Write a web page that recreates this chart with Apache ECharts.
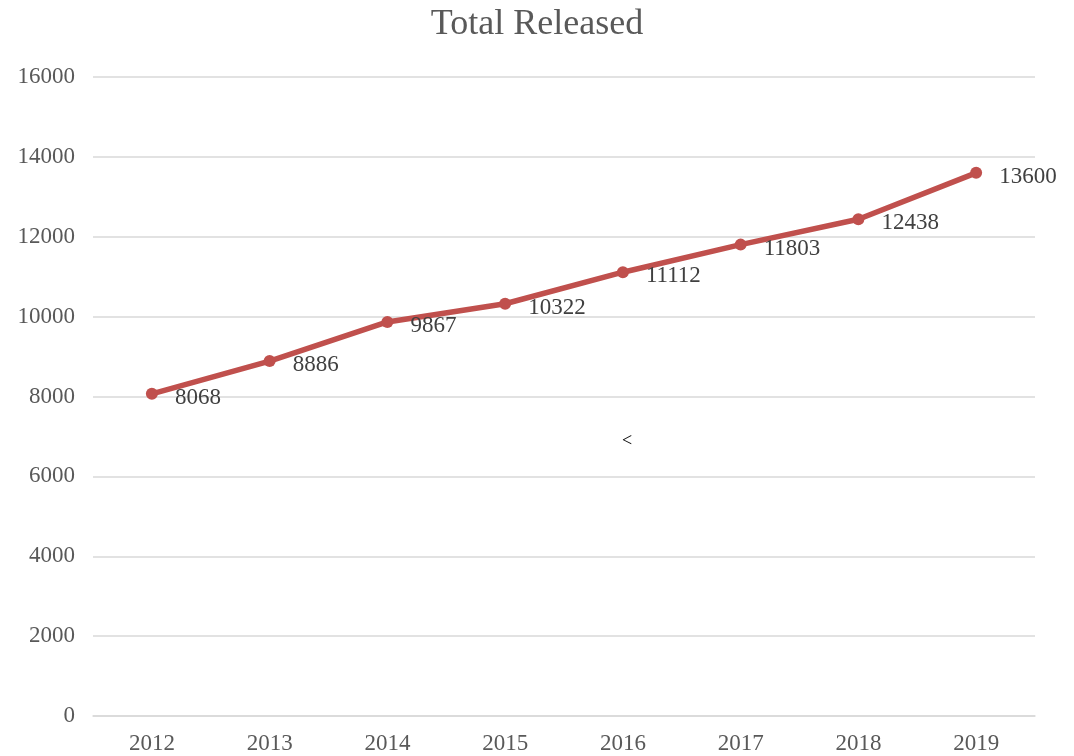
<!DOCTYPE html>
<html>
<head>
<meta charset="utf-8">
<script src="https://cdn.jsdelivr.net/npm/echarts@6/dist/echarts.min.js"></script>
<style>
  html, body { margin: 0; padding: 0; background: #fff; }
  #chart { width: 1074px; height: 756px; }
</style>
</head>
<body>
<div id="chart"></div>
<script>
// Yearly totals
const years = ['2012', '2013', '2014', '2015', '2016', '2017', '2018', '2019'];
const totalReleased = [8068, 8886, 9867, 10322, 11112, 11803, 12438, 13600];

const serif = '"Liberation Serif", "Times New Roman", serif';

const chart = echarts.init(document.getElementById('chart'), null, { renderer: 'canvas' });
chart.setOption({
  backgroundColor: '#ffffff',
  animation: false,
  title: {
    text: 'Total Released',
    left: 'center',
    top: 2,
    textStyle: { fontFamily: serif, fontSize: 36, fontWeight: 'normal', color: '#595959' }
  },
  grid: { left: 93, right: 39, top: 77, bottom: 40, containLabel: false },
  xAxis: {
    type: 'category',
    data: years,
    boundaryGap: true,
    axisLine: { show: true, lineStyle: { color: '#d9d9d9', width: 1.5 } },
    axisTick: { show: false },
    axisLabel: { fontFamily: serif, fontSize: 23, color: '#595959', margin: 16 }
  },
  yAxis: {
    type: 'value',
    min: 0,
    max: 16000,
    interval: 2000,
    axisLine: { show: false },
    axisTick: { show: false },
    axisLabel: {
      fontFamily: serif, fontSize: 23, color: '#595959', margin: 18,
      formatter: (v) => String(v)
    },
    splitLine: { lineStyle: { color: '#d9d9d9', width: 1.5 } }
  },
  series: [{
    name: 'Total Released',
    type: 'line',
    data: totalReleased,
    symbol: 'circle',
    symbolSize: 12,
    lineStyle: { color: '#C0504D', width: 5.5 },
    itemStyle: { color: '#C0504D' },
    label: {
      show: true,
      position: 'right',
      distance: 17,
      offset: [0, 4],
      fontFamily: serif,
      fontSize: 23,
      color: '#404040'
    }
  }],
  graphic: [{
    type: 'text',
    left: 622,
    top: 432,
    style: { text: '<', fontFamily: serif, fontSize: 18, fill: '#000000' }
  }]
});
</script>
</body>
</html>
